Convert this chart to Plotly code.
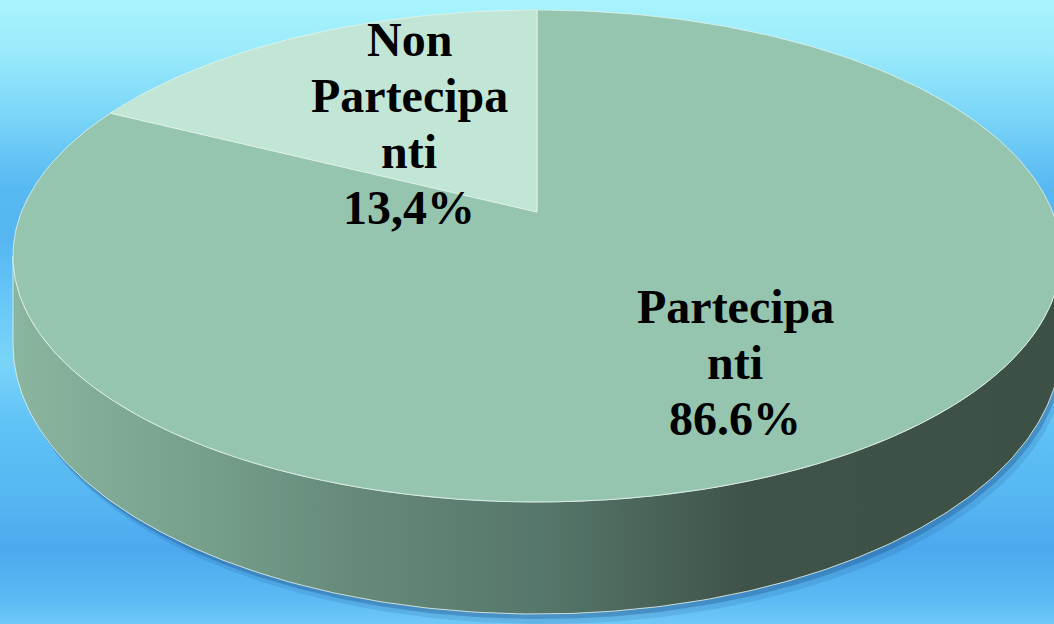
import numpy as np
import plotly.graph_objects as go

# ---------------- data ----------------
categories = ["Partecipanti", "Non Partecipanti"]
values = [86.6, 13.4]
pct_text = ["86.6%", "13,4%"]
label_lines = [["Partecipa", "nti"], ["Non", "Partecipa", "nti"]]
slice_colors = ["#96C5AF", "#C2E6D5"]

# ---------------- geometry / style ----------------
W, H = 1054, 624
CX, CY = 537, 256          # centre of the top-face outline (pixel space)
A, B = 524, 246            # semi axes of the top face
VY = 212                   # apparent pie centre (perspective)
SKEW = 0.1466              # angular distortion of the 3D view
label_pos = {"Partecipanti": (735, 306), "Non Partecipanti": (409, 39)}
LINE_STEP = 56
FONT = "Liberation Serif"


def outline(alpha):
    return CX + A * np.sin(alpha), CY - B * np.cos(alpha)


def depth(alpha):
    v = np.clip(-np.cos(alpha), 0, None)
    return 88 + 24 * v


def view_angle(theta):
    return theta + SKEW * np.sin(theta)


fig = go.Figure()

# background gradient
bg_scale = [
    [0.00, "#A8F4FD"], [0.08, "#9BEBFB"], [0.18, "#7CD7F8"], [0.30, "#58B8F1"],
    [0.38, "#55B6F2"], [0.50, "#6ACAF8"], [0.58, "#7AD4F9"], [0.68, "#60C2F6"],
    [0.80, "#56B6F2"], [0.88, "#4CA9EE"], [0.96, "#5BBAF4"], [1.00, "#6FC9F7"],
]
fig.add_trace(go.Scatter(
    x=[0, W, W, 0, 0], y=[0, 0, H, H, 0], mode="lines", fill="toself",
    line=dict(width=0), fillgradient=dict(type="vertical", colorscale=bg_scale, start=0, stop=H),
    hoverinfo="skip", showlegend=False))

# side of the cylinder
af = np.linspace(np.pi / 2, 3 * np.pi / 2, 240)
tx, ty = outline(af)
bx, by = tx[::-1], (ty + depth(af))[::-1]
sx = np.concatenate([tx, bx, tx[:1]])
sy = np.concatenate([ty, by, ty[:1]])

# soft shadow
for dx, dy, op in [(6, 10, 0.12), (3, 5, 0.28)]:
    fig.add_trace(go.Scatter(
        x=sx + dx, y=sy + dy, mode="lines", fill="toself",
        line=dict(width=0), fillcolor=f"rgba(20,60,115,{op})",
        hoverinfo="skip", showlegend=False))

side_scale = [
    [0.00, "#8AB59F"], [0.18, "#76A08C"], [0.32, "#668A7A"],
    [0.51, "#55766A"], [0.70, "#3F5349"], [1.00, "#3C5045"],
]
fig.add_trace(go.Scatter(
    x=sx, y=sy, mode="lines", fill="toself",
    line=dict(width=1, color="rgba(225,238,232,0.85)"),
    fillgradient=dict(type="horizontal", colorscale=side_scale, start=CX - A, stop=CX + A),
    hoverinfo="skip", showlegend=False))

# top-face slices
total = sum(values)
start = 0.0
for cat, val, col in zip(categories, values, slice_colors):
    end = start + val / total * 2 * np.pi
    th = np.linspace(start, end, max(20, int(400 * val / total)))
    px, py = outline(view_angle(th))
    xs = np.concatenate([[CX], px, [CX]])
    ys = np.concatenate([[VY], py, [VY]])
    fig.add_trace(go.Scatter(
        x=xs, y=ys, mode="lines", fill="toself", fillcolor=col,
        line=dict(width=1, color="rgba(228,242,235,0.8)"),
        name=cat, hoverinfo="name", showlegend=False))
    start = end

# labels
for cat, lines, pct in zip(categories, label_lines, pct_text):
    lx, ly = label_pos[cat]
    for k, t in enumerate(lines + [pct]):
        fig.add_annotation(
            x=lx, y=ly + k * LINE_STEP, xref="x", yref="y",
            text=f"<b>{t}</b>", showarrow=False, xanchor="center", yanchor="middle",
            font=dict(family=FONT, size=48, color="#000000"))

fig.update_xaxes(range=[0, W], visible=False, fixedrange=True)
fig.update_yaxes(range=[H, 0], visible=False, fixedrange=True)
fig.update_layout(
    width=W, height=H, margin=dict(l=0, r=0, t=0, b=0),
    paper_bgcolor="#6FC9F7", plot_bgcolor="#6FC9F7", showlegend=False)

fig.write_html("out.html", config={"displayModeBar": False},
               post_script="document.body.style.margin='0';document.body.style.overflow='hidden';")
